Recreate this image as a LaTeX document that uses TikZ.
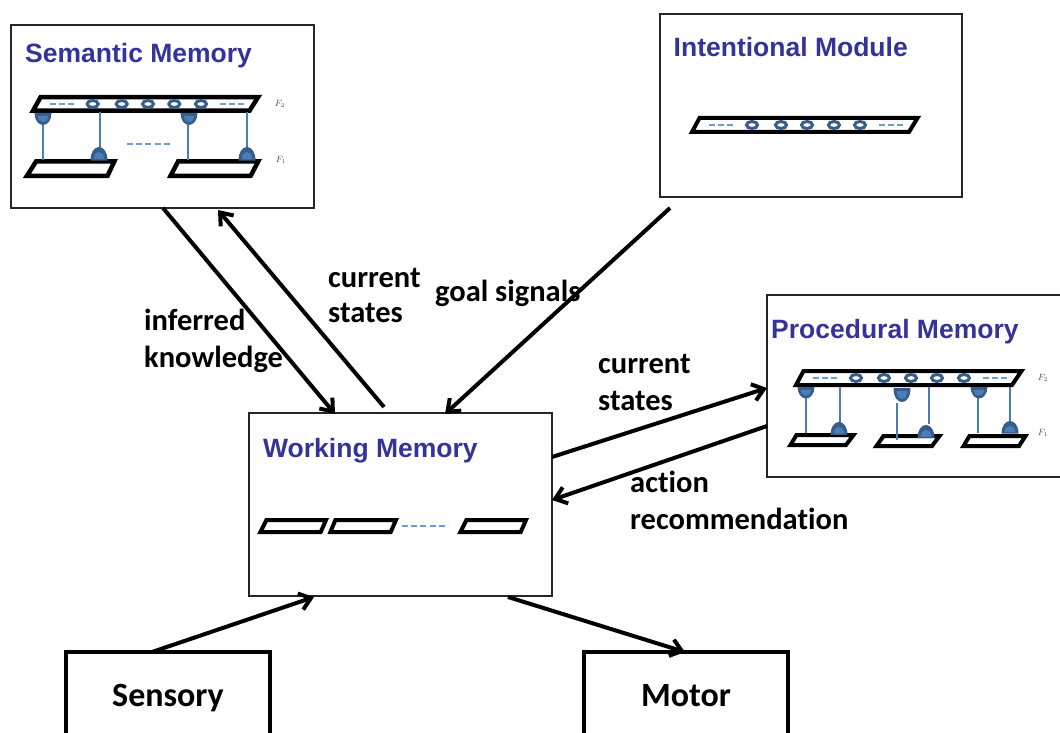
\documentclass[tikz,border=0pt]{standalone}
\usepackage{fontspec}
\setmainfont{Liberation Sans}
\newfontfamily\lblfont[Ligatures=NoCommon]{Carlito}
\usetikzlibrary{arrows.meta}
\definecolor{titleblue}{HTML}{333399}
\definecolor{unitblue}{HTML}{385D8A}
\definecolor{unitlight}{HTML}{4A7EBB}
\definecolor{dashblue}{HTML}{6F9BD1}
\tikzset{
  x=1pt,y=-1pt,
  modbox/.style={draw=black!85,line width=1.5pt,fill=white,anchor=north west,inner sep=0pt,outer sep=0pt},
  outerbox/.style={draw=black,line width=4pt,fill=white,anchor=north west,inner sep=0pt,outer sep=0pt},
  modtitle/.style={font=\bfseries\fontsize{26.5}{30}\selectfont,text=titleblue,anchor=base west,inner sep=0pt},
  lbl/.style={font=\lblfont\bfseries\fontsize{30.5}{32}\selectfont,anchor=base west,inner sep=0pt,text=black},
  boxlbl/.style={font=\lblfont\bfseries\fontsize{34}{36}\selectfont,anchor=base,inner sep=0pt,text=black},
  flow/.style={draw=black,line width=4pt,-{Straight Barb[length=11pt,width=17pt,line width=4pt]}},
  para/.style={draw=black,line width=4pt,miter limit=10,fill=white},
  parathick/.style={para,line width=4.5pt},
  unit/.style={draw=unitblue,line width=3pt,fill=white},
  dashln/.style={draw=dashblue,line width=1.4pt,dash pattern=on 6pt off 3.2pt},
  conn/.style={draw=unitlight,line width=1.5pt},
  fsmall/.style={font=\fontsize{9}{9}\selectfont,inner sep=0pt,text=black!70},
}
\newcommand{\domedown}[3]{% x, top, bottom
  \fill[unitblue] (#1-8.5,#2) -- (#1+8.5,#2) .. controls (#1+8.5,#3-5) and (#1+4.7,#3) .. (#1,#3) .. controls (#1-4.7,#3) and (#1-8.5,#3-5) .. cycle;
  \fill[unitlight] (#1-5,#2+3) -- (#1+5,#2+3) .. controls (#1+5,#3-5) and (#1+2.7,#3-3) .. (#1,#3-3) .. controls (#1-2.7,#3-3) and (#1-5,#3-5) .. cycle;}
\newcommand{\domeup}[3]{% x, top, bottom
  \fill[unitblue] (#1-8.5,#3) -- (#1+8.5,#3) .. controls (#1+8.5,#2+5) and (#1+4.7,#2) .. (#1,#2) .. controls (#1-4.7,#2) and (#1-8.5,#2+5) .. cycle;
  \fill[unitlight] (#1-5,#3-1.5) -- (#1+5,#3-1.5) .. controls (#1+5,#2+7) and (#1+2.7,#2+5) .. (#1,#2+5) .. controls (#1-2.7,#2+5) and (#1-5,#2+7) .. cycle;}
\newcommand{\ringrow}[6]{\foreach \cx in {#1,#2,#3,#4,#5}{\draw[unit] (\cx,#6) ellipse [x radius=5.5,y radius=3.5];}}
\begin{document}
\begin{tikzpicture}
\useasboundingbox (0,0) rectangle (1060,733);
% boxes
\node[modbox,minimum width=303pt,minimum height=183pt] (sem) at (11,25) {};
\node[modbox,minimum width=302pt,minimum height=183pt] (int) at (660,14) {};
\node[modbox,minimum width=303pt,minimum height=183pt] (wm) at (249,413) {};
\node[modbox,minimum width=300pt,minimum height=182pt] (proc) at (767,295) {};
\node[outerbox,minimum width=204pt,minimum height=90pt] (sens) at (66,652) {};
\node[outerbox,minimum width=204pt,minimum height=90pt] (mot) at (584,652) {};
% titles
\node[modtitle] (semt) at (25,63) {Semantic Memory};
\node[modtitle] (intt) at (673.5,57) {Intentional Module};
\node[modtitle] (wmt) at (263,457) {Working Memory};
\node[modtitle] (proct) at (771,338) {Procedural Memory};
\node[boxlbl] (senst) at (168,706) {Sensory};
\node[boxlbl] (mott) at (686,706) {Motor};
% Semantic memory network
\draw[parathick] (40.5,97.25) -- (258,97.25) -- (249.5,110.75) -- (33,110.75) -- cycle;
\draw[parathick] (36.2,161.25) -- (114.4,161.25) -- (107.6,175.75) -- (27,175.75) -- cycle;
\draw[parathick] (178.2,161.25) -- (258.3,161.25) -- (250.7,175.75) -- (170.6,175.75) -- cycle;
\ringrow{92.7}{121.7}{148}{174.3}{201}{104}
\draw[dashln] (50,104) -- (75,104);
\draw[dashln] (220,104) -- (245,104);
\draw[dashln] (127,144) -- (170,144);
\draw[conn] (43,124) -- (43,160);
\draw[conn] (100,112) -- (100,148);
\draw[conn] (188,124) -- (188,160);
\draw[conn] (247,112) -- (247,148);
\domedown{43}{113}{125}
\domedown{189}{113}{125}
\domeup{99}{147}{160.5}
\domeup{247}{147}{160.5}
\node[fsmall] (sf2) at (280,104) {$F_2$};
\node[fsmall] (sf1) at (281,160) {$F_1$};
% Intentional module
\draw[para] (699.5,118) -- (917.5,118) -- (909,132) -- (692,132) -- cycle;
\ringrow{752}{781}{807}{834}{860}{125}
\draw[dashln] (709,125) -- (733,125);
\draw[dashln] (879,125) -- (903,125);
% Working memory
\draw[para] (266.4,520) -- (326,520) -- (320.7,532) -- (260.4,532) -- cycle;
\draw[para] (335.4,520) -- (396,520) -- (390.7,532) -- (330.4,532) -- cycle;
\draw[para] (466.4,520) -- (526,520) -- (520.7,532) -- (460.4,532) -- cycle;
\draw[dashln] (402,526) -- (448,526);
% Procedural memory
\draw[para] (803.5,371) -- (1021.5,371) -- (1012,385) -- (796,385) -- cycle;
\draw[para] (796.5,435) -- (853.5,435) -- (846,445) -- (790.5,445) -- cycle;
\draw[para] (883.5,436) -- (939.5,436) -- (932,446) -- (876.5,446) -- cycle;
\draw[para] (969.5,436) -- (1025.5,436) -- (1019,446) -- (963.5,446) -- cycle;
\ringrow{856}{884}{911}{937}{964}{378}
\draw[dashln] (813,378) -- (837,378);
\draw[dashln] (983,378) -- (1007,378);
\draw[conn] (806,398) -- (806,433);
\draw[conn] (840,387) -- (840,423);
\draw[conn] (897,403) -- (897,440);
\draw[conn] (929,387) -- (929,424);
\draw[conn] (978,398) -- (978,433);
\draw[conn] (1010,387) -- (1010,422);
\domedown{806}{387}{398.5}
\domedown{902}{388}{402}
\domedown{979}{387}{398.5}
\domeup{839}{422}{435}
\domeup{926}{425}{438}
\domeup{1010}{421}{433.5}
\node[fsmall] (pf2) at (1043,378) {$F_2$};
\node[fsmall] (pf1) at (1043,433) {$F_1$};
% connectors
\draw[flow] ([xshift=152pt]sem.south west) -- ([xshift=86pt,yshift=-1pt]wm.north west);
\draw[flow] ([xshift=135pt,yshift=6pt]wm.north west) -- ([xshift=207pt,yshift=-2pt]sem.south west);
\draw[flow] ([xshift=10pt,yshift=-11pt]int.south west) -- ([xshift=196pt,yshift=-1pt]wm.north west);
\draw[flow] ([yshift=47.5pt]wm.east) -- ([yshift=-93pt]proc.north west);
\draw[flow] ([yshift=-131pt]proc.north west) -- ([yshift=4.5pt]wm.east);
\draw[flow] ([xshift=86pt]sens.north west) -- ([xshift=65pt,yshift=-1pt]wm.south west);
\draw[flow] ([xshift=259pt,yshift=-1pt]wm.south west) -- ([xshift=101pt]mot.north west);
% connector labels
\node[lbl] (l1) at (144,330.5) {inferred};
\node[lbl] (l2) at (144,367.5) {knowledge};
\node[lbl] (l3) at (328,287.5) {current};
\node[lbl] (l4) at (328,322.5) {states};
\node[lbl] (l5) at (435,301.5) {goal signals};
\node[lbl] (l6) at (598,373.5) {current};
\node[lbl] (l7) at (598,410.5) {states};
\node[lbl] (l8) at (630,492.5) {action};
\node[lbl] (l9) at (630,529.5) {recommendation};
\end{tikzpicture}
\end{document}
